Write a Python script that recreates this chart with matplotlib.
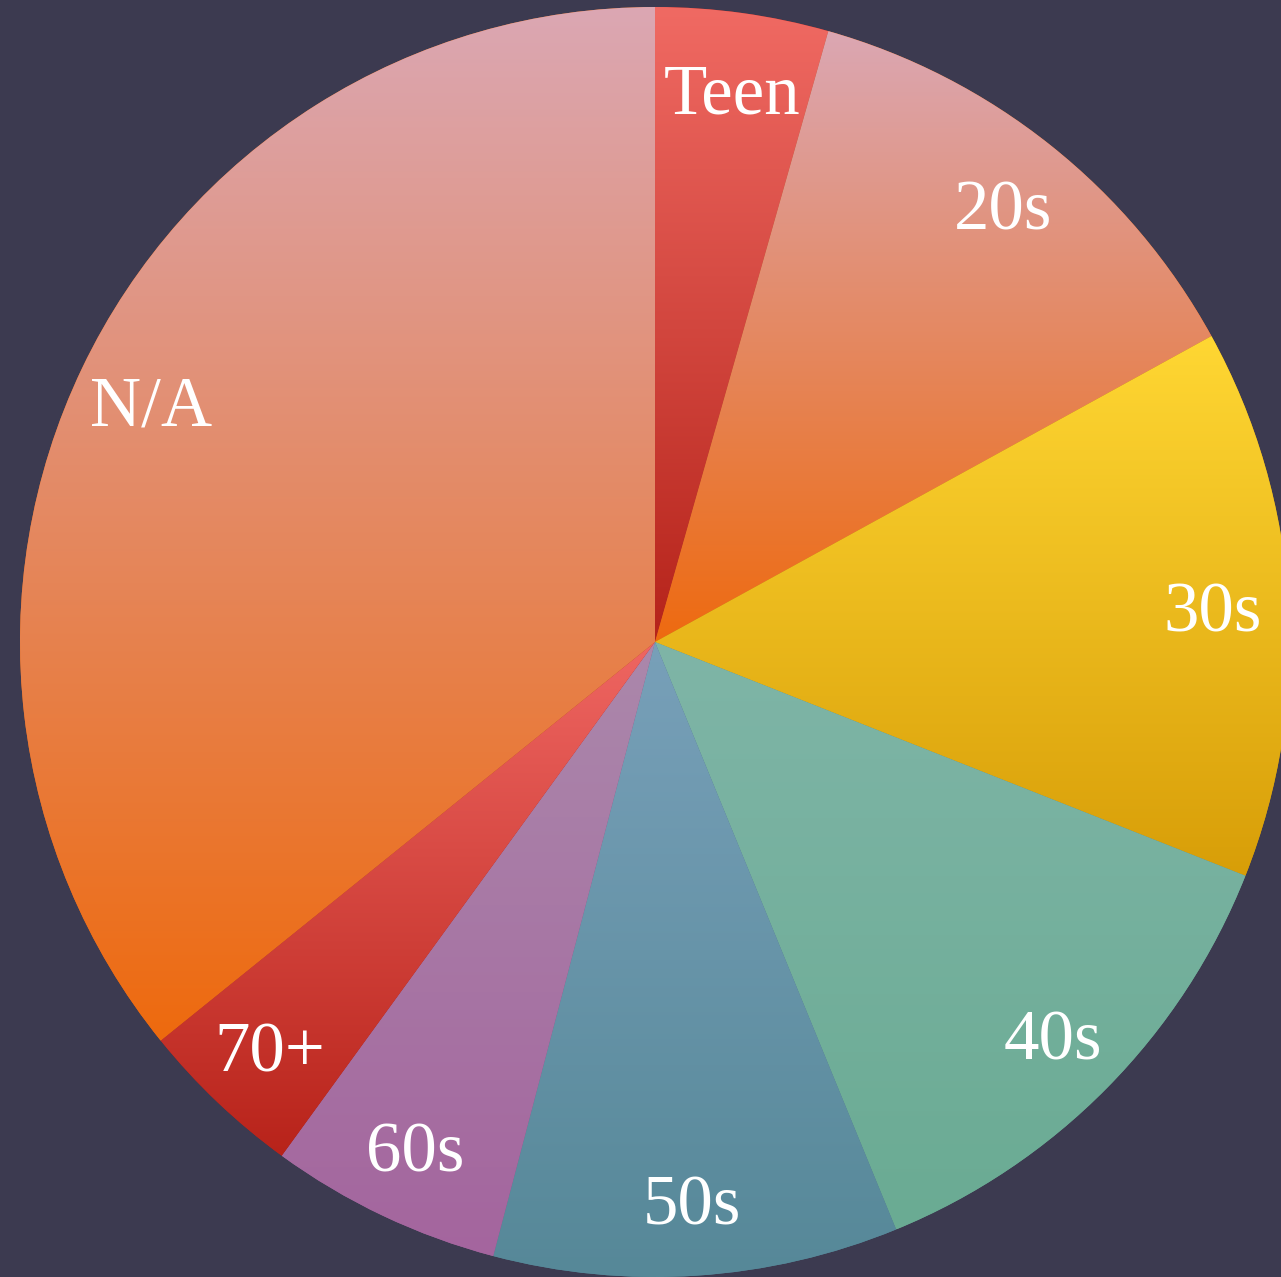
import numpy as np
import matplotlib
matplotlib.use("Agg")
import matplotlib.pyplot as plt
from matplotlib.colors import to_rgb

# Данные
labels = ["Teen", "20s", "30s", "40s", "50s", "60s", "70+", "N/A"]
shares = [4.4, 12.6, 14.0, 12.8, 10.3, 5.9, 4.2, 35.8]

# Градиенты: верх -> низ
top_colors = ["#f06a63", "#dba7b3", "#ffd733", "#7fb5a7", "#78a0b9", "#ab88ab", "#ef6662", "#dba7b3"]
bottom_colors = ["#b5231a", "#ee6a10", "#d89e08", "#6aab93", "#568898", "#a4659e", "#b8231a", "#ee6a0e"]

bg = "#3c3a50"
W, H = 1281, 1277

fig = plt.figure(figsize=(W / 100, H / 100), dpi=100, facecolor=bg)
ax = fig.add_axes([0, 0, 1, 1])
ax.set_facecolor(bg)

wedges, texts = ax.pie(
    shares, labels=labels, startangle=90, counterclock=False,
    radius=635, center=(655, 635), labeldistance=0.88,
    wedgeprops=dict(linewidth=0),
    textprops=dict(color="white", fontsize=51, family="Liberation Serif",
                   ha="center", va="center_baseline"),
)

# Заливка каждого сектора вертикальным градиентом
for w, c_top, c_bot in zip(wedges, top_colors, bottom_colors):
    bb = w.get_path().get_extents(w.get_patch_transform())
    t = np.linspace(0, 1, 256)[:, None]
    top = np.array(to_rgb(c_top))
    bot = np.array(to_rgb(c_bot))
    grad = bot * (1 - t) + top * t  # origin lower: row 0 = bottom
    img = ax.imshow(grad[:, None, :], extent=(bb.x0, bb.x1, bb.y0, bb.y1),
                    origin="lower", aspect="auto", interpolation="bilinear", zorder=1)
    img.set_clip_path(w)
    w.set_facecolor(c_bot)

for t in texts:
    t.set_zorder(3)

ax.set_xlim(0, W)
ax.set_ylim(0, H)
ax.set_aspect("equal")
ax.axis("off")

fig.savefig("out.png", dpi=100, facecolor=bg)
